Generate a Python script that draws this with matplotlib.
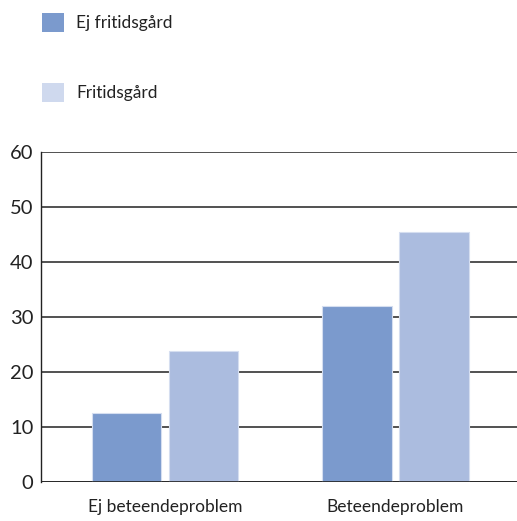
import numpy as np
import matplotlib.pyplot as plt
from matplotlib.patches import Patch

# --------------------------------------------
# Data
# --------------------------------------------
categories = ["Ej beteendeproblem", "Beteendeproblem"]
series_names = ["Ej fritidsgård", "Fritidsgård"]
ej_fritidsgard = [12.5, 32.0]
fritidsgard = [23.8, 45.5]

bar_colors = ["#7b9acd", "#abbcdf"]
legend_colors = ["#7b9acd", "#cfd9ee"]

plt.rcParams["font.family"] = ["Lato", "DejaVu Sans"]

# --------------------------------------------
# Figure
# --------------------------------------------
fig = plt.figure(figsize=(5.17, 5.21), dpi=100)
ax = fig.add_axes([41 / 517, 1 - 482 / 521, 1 - 41 / 517, (482 - 152) / 521])

x = np.arange(len(categories))
w = 0.30
off = 0.167
ax.bar(x - off, ej_fritidsgard, width=w, color=bar_colors[0],
       edgecolor="#d5def0", linewidth=0.8, zorder=3)
ax.bar(x + off, fritidsgard, width=w, color=bar_colors[1],
       edgecolor="#d5def0", linewidth=0.8, zorder=3)

ax.set_xlim(-0.538, 1.527)
ax.set_ylim(0, 60)
ax.set_yticks(range(0, 61, 10))
ax.set_xticks(x)
ax.set_xticklabels(categories, fontsize=12.5, color="#222222")
ax.tick_params(axis="y", labelsize=14.5, length=0, pad=5.5, labelcolor="#222222")
ax.tick_params(axis="x", length=0, pad=12)

ax.yaxis.grid(True, color="#222222", linewidth=1.1, zorder=1)
for s in ["top", "right", "bottom"]:
    ax.spines[s].set_visible(False)
ax.spines["left"].set_color("#222222")
ax.spines["left"].set_linewidth(1.0)
ax.axhline(0, color="#222222", linewidth=1.2, zorder=4)

# legend stacked at top left
handles = [Patch(facecolor=c, edgecolor="none") for c in legend_colors]
fig.legend(handles, series_names, loc="upper left", bbox_to_anchor=(42 / 517, 1 - 13 / 521),
           frameon=False, fontsize=12.5, handlelength=1.28, handleheight=1.28,
           labelspacing=2.95, handletextpad=0.7, borderpad=0, borderaxespad=0,
           labelcolor="#222222")

plt.savefig("out.png", dpi=100)
plt.close()
